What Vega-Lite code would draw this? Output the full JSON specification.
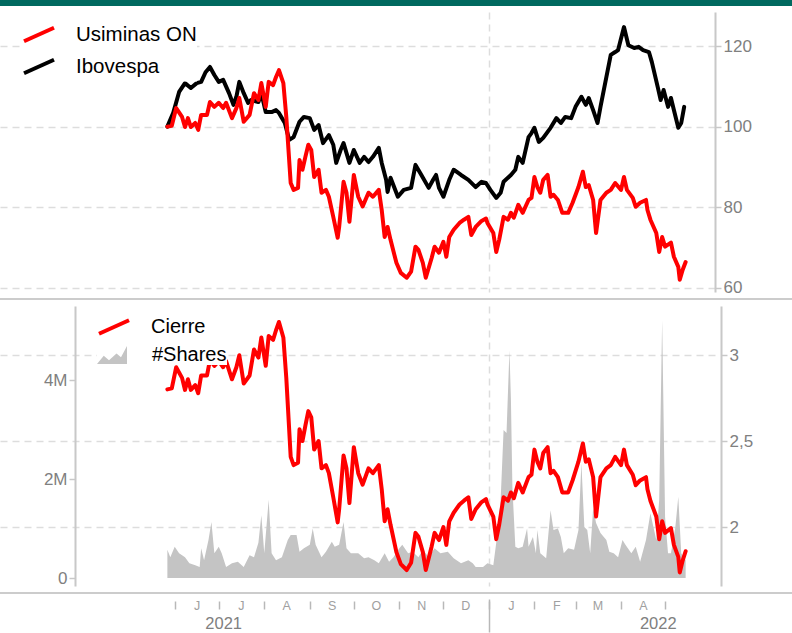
{
"$schema": "https://vega.github.io/schema/vega-lite/v6.json",
"padding": 0,
"spacing": 6,
"bounds": "flush",
"config": {"view": {"stroke": null}, "font": "Liberation Sans", "axis": {"labelFont": "Liberation Sans"}, "legend": {"labelFont": "Liberation Sans"}},
"datasets": {
"ibov": [
{"d":"2021-05-27","v":100.0},{"d":"2021-05-31","v":103.4},{"d":"2021-06-04","v":108.6},{"d":"2021-06-08","v":110.8},{"d":"2021-06-12","v":109.6},{"d":"2021-06-16","v":110.8},{"d":"2021-06-19","v":111.1},{"d":"2021-06-22","v":113.5},{"d":"2021-06-25","v":114.8},{"d":"2021-06-28","v":112.8},{"d":"2021-07-01","v":111.1},{"d":"2021-07-04","v":111.6},{"d":"2021-07-08","v":108.3},{"d":"2021-07-11","v":105.4},{"d":"2021-07-13","v":107.4},{"d":"2021-07-15","v":111.1},{"d":"2021-07-18","v":108.3},{"d":"2021-07-21","v":105.9},{"d":"2021-07-23","v":106.6},{"d":"2021-07-28","v":106.1},{"d":"2021-07-30","v":108.3},{"d":"2021-08-02","v":103.6},{"d":"2021-08-06","v":103.6},{"d":"2021-08-09","v":104.1},{"d":"2021-08-11","v":103.4},{"d":"2021-08-15","v":100.9},{"d":"2021-08-18","v":96.7},{"d":"2021-08-21","v":97.4},{"d":"2021-08-25","v":101.2},{"d":"2021-08-28","v":102.4},{"d":"2021-09-01","v":102.1},{"d":"2021-09-04","v":99.2},{"d":"2021-09-07","v":100.4},{"d":"2021-09-10","v":95.9},{"d":"2021-09-14","v":97.9},{"d":"2021-09-17","v":95.5},{"d":"2021-09-19","v":91.0},{"d":"2021-09-22","v":94.2},{"d":"2021-09-24","v":95.9},{"d":"2021-09-28","v":91.0},{"d":"2021-10-01","v":94.2},{"d":"2021-10-05","v":91.0},{"d":"2021-10-08","v":92.5},{"d":"2021-10-11","v":91.2},{"d":"2021-10-14","v":92.5},{"d":"2021-10-18","v":94.7},{"d":"2021-10-20","v":91.0},{"d":"2021-10-23","v":86.8},{"d":"2021-10-24","v":83.8},{"d":"2021-10-26","v":87.3},{"d":"2021-10-31","v":82.6},{"d":"2021-11-04","v":84.3},{"d":"2021-11-09","v":84.8},{"d":"2021-11-12","v":90.5},{"d":"2021-11-16","v":88.0},{"d":"2021-11-21","v":84.8},{"d":"2021-11-24","v":86.8},{"d":"2021-11-26","v":88.0},{"d":"2021-11-28","v":84.8},{"d":"2021-12-01","v":82.6},{"d":"2021-12-05","v":86.8},{"d":"2021-12-08","v":89.3},{"d":"2021-12-13","v":88.0},{"d":"2021-12-18","v":86.8},{"d":"2021-12-23","v":85.0},{"d":"2021-12-27","v":86.3},{"d":"2021-12-30","v":86.0},{"d":"2022-01-02","v":84.3},{"d":"2022-01-06","v":82.3},{"d":"2022-01-09","v":83.6},{"d":"2022-01-11","v":86.3},{"d":"2022-01-16","v":88.0},{"d":"2022-01-19","v":89.3},{"d":"2022-01-21","v":92.5},{"d":"2022-01-24","v":91.0},{"d":"2022-01-28","v":97.4},{"d":"2022-01-30","v":98.4},{"d":"2022-02-01","v":99.7},{"d":"2022-02-04","v":96.2},{"d":"2022-02-07","v":97.2},{"d":"2022-02-12","v":99.7},{"d":"2022-02-16","v":102.1},{"d":"2022-02-19","v":100.9},{"d":"2022-02-22","v":102.4},{"d":"2022-02-26","v":102.1},{"d":"2022-03-01","v":104.9},{"d":"2022-03-05","v":107.4},{"d":"2022-03-08","v":105.4},{"d":"2022-03-10","v":107.1},{"d":"2022-03-13","v":104.1},{"d":"2022-03-16","v":100.9},{"d":"2022-03-18","v":104.9},{"d":"2022-03-22","v":112.3},{"d":"2022-03-25","v":117.8},{"d":"2022-03-28","v":118.5},{"d":"2022-03-30","v":119.0},{"d":"2022-04-03","v":124.7},{"d":"2022-04-06","v":120.2},{"d":"2022-04-10","v":119.5},{"d":"2022-04-13","v":119.8},{"d":"2022-04-16","v":119.0},{"d":"2022-04-20","v":118.5},{"d":"2022-04-22","v":116.0},{"d":"2022-04-26","v":109.8},{"d":"2022-04-28","v":106.6},{"d":"2022-04-30","v":109.1},{"d":"2022-05-03","v":104.9},{"d":"2022-05-05","v":107.1},{"d":"2022-05-07","v":104.1},{"d":"2022-05-10","v":99.7},{"d":"2022-05-12","v":100.9},{"d":"2022-05-14","v":104.9}
],
"usim": [
{"d":"2021-05-27","v":100.0,"p":2.800},{"d":"2021-05-30","v":100.2,"p":2.806},{"d":"2021-06-02","v":104.6,"p":2.929},{"d":"2021-06-06","v":102.4,"p":2.867},{"d":"2021-06-08","v":99.9,"p":2.797},{"d":"2021-06-10","v":102.1,"p":2.859},{"d":"2021-06-12","v":99.9,"p":2.797},{"d":"2021-06-15","v":100.9,"p":2.825},{"d":"2021-06-17","v":99.2,"p":2.778},{"d":"2021-06-19","v":102.9,"p":2.881},{"d":"2021-06-23","v":102.9,"p":2.881},{"d":"2021-06-25","v":106.1,"p":2.971},{"d":"2021-06-28","v":104.9,"p":2.937},{"d":"2021-07-01","v":105.9,"p":2.965},{"d":"2021-07-04","v":104.6,"p":2.929},{"d":"2021-07-06","v":105.9,"p":2.965},{"d":"2021-07-10","v":102.1,"p":2.859},{"d":"2021-07-13","v":104.6,"p":2.929},{"d":"2021-07-15","v":107.1,"p":2.999},{"d":"2021-07-18","v":101.2,"p":2.834},{"d":"2021-07-22","v":102.9,"p":2.881},{"d":"2021-07-25","v":108.3,"p":3.032},{"d":"2021-07-28","v":106.6,"p":2.985},{"d":"2021-07-30","v":110.8,"p":3.102},{"d":"2021-08-02","v":104.9,"p":2.937},{"d":"2021-08-04","v":111.1,"p":3.111},{"d":"2021-08-07","v":110.3,"p":3.088},{"d":"2021-08-09","v":112.3,"p":3.144},{"d":"2021-08-11","v":114.0,"p":3.192},{"d":"2021-08-14","v":110.8,"p":3.102},{"d":"2021-08-16","v":102.4,"p":2.867},{"d":"2021-08-19","v":86.0,"p":2.408},{"d":"2021-08-21","v":84.3,"p":2.360},{"d":"2021-08-24","v":84.8,"p":2.374},{"d":"2021-08-25","v":91.7,"p":2.568},{"d":"2021-08-27","v":89.3,"p":2.500},{"d":"2021-08-29","v":92.5,"p":2.590},{"d":"2021-08-31","v":95.5,"p":2.674},{"d":"2021-09-02","v":94.2,"p":2.638},{"d":"2021-09-04","v":87.5,"p":2.450},{"d":"2021-09-07","v":89.3,"p":2.500},{"d":"2021-09-09","v":83.6,"p":2.341},{"d":"2021-09-12","v":84.3,"p":2.360},{"d":"2021-09-14","v":82.6,"p":2.313},{"d":"2021-09-17","v":77.6,"p":2.173},{"d":"2021-09-20","v":72.4,"p":2.027},{"d":"2021-09-21","v":75.1,"p":2.103},{"d":"2021-09-24","v":86.3,"p":2.416},{"d":"2021-09-26","v":83.6,"p":2.341},{"d":"2021-09-28","v":76.4,"p":2.139},{"d":"2021-10-01","v":88.0,"p":2.464},{"d":"2021-10-04","v":82.6,"p":2.313},{"d":"2021-10-07","v":80.2,"p":2.246},{"d":"2021-10-11","v":83.6,"p":2.341},{"d":"2021-10-14","v":82.6,"p":2.313},{"d":"2021-10-18","v":84.3,"p":2.360},{"d":"2021-10-20","v":79.3,"p":2.220},{"d":"2021-10-22","v":72.6,"p":2.033},{"d":"2021-10-24","v":75.1,"p":2.103},{"d":"2021-10-26","v":71.9,"p":2.013},{"d":"2021-10-30","v":66.2,"p":1.854},{"d":"2021-11-02","v":63.7,"p":1.784},{"d":"2021-11-06","v":62.5,"p":1.750},{"d":"2021-11-09","v":64.0,"p":1.792},{"d":"2021-11-12","v":70.2,"p":1.966},{"d":"2021-11-14","v":69.4,"p":1.943},{"d":"2021-11-17","v":66.2,"p":1.854},{"d":"2021-11-19","v":62.5,"p":1.750},{"d":"2021-11-23","v":67.4,"p":1.887},{"d":"2021-11-25","v":70.2,"p":1.966},{"d":"2021-11-28","v":68.7,"p":1.924},{"d":"2021-12-01","v":71.4,"p":1.999},{"d":"2021-12-03","v":67.7,"p":1.896},{"d":"2021-12-05","v":72.6,"p":2.033},{"d":"2021-12-08","v":74.4,"p":2.083},{"d":"2021-12-12","v":76.1,"p":2.131},{"d":"2021-12-15","v":76.9,"p":2.153},{"d":"2021-12-18","v":77.6,"p":2.173},{"d":"2021-12-20","v":73.1,"p":2.047},{"d":"2021-12-23","v":75.1,"p":2.103},{"d":"2021-12-27","v":76.6,"p":2.145},{"d":"2021-12-30","v":77.2,"p":2.162},{"d":"2021-12-31","v":76.1,"p":2.131},{"d":"2022-01-04","v":73.6,"p":2.061},{"d":"2022-01-06","v":68.9,"p":1.929},{"d":"2022-01-08","v":71.9,"p":2.013},{"d":"2022-01-11","v":77.6,"p":2.173},{"d":"2022-01-14","v":76.9,"p":2.153},{"d":"2022-01-16","v":78.6,"p":2.201},{"d":"2022-01-18","v":77.4,"p":2.167},{"d":"2022-01-21","v":80.6,"p":2.257},{"d":"2022-01-24","v":78.6,"p":2.201},{"d":"2022-01-28","v":81.8,"p":2.290},{"d":"2022-01-30","v":82.3,"p":2.304},{"d":"2022-02-01","v":87.5,"p":2.450},{"d":"2022-02-03","v":85.0,"p":2.380},{"d":"2022-02-05","v":83.6,"p":2.341},{"d":"2022-02-07","v":86.8,"p":2.430},{"d":"2022-02-10","v":88.0,"p":2.464},{"d":"2022-02-12","v":82.6,"p":2.313},{"d":"2022-02-14","v":83.1,"p":2.327},{"d":"2022-02-17","v":81.8,"p":2.290},{"d":"2022-02-20","v":78.6,"p":2.201},{"d":"2022-02-24","v":78.6,"p":2.201},{"d":"2022-02-27","v":81.1,"p":2.271},{"d":"2022-03-03","v":85.0,"p":2.380},{"d":"2022-03-06","v":88.8,"p":2.486},{"d":"2022-03-08","v":85.0,"p":2.380},{"d":"2022-03-10","v":85.5,"p":2.394},{"d":"2022-03-13","v":81.8,"p":2.290},{"d":"2022-03-15","v":73.6,"p":2.061},{"d":"2022-03-18","v":81.8,"p":2.290},{"d":"2022-03-22","v":83.6,"p":2.341},{"d":"2022-03-25","v":84.3,"p":2.360},{"d":"2022-03-28","v":86.0,"p":2.408},{"d":"2022-04-01","v":84.3,"p":2.360},{"d":"2022-04-03","v":87.5,"p":2.450},{"d":"2022-04-05","v":84.3,"p":2.360},{"d":"2022-04-09","v":82.3,"p":2.304},{"d":"2022-04-11","v":80.1,"p":2.243},{"d":"2022-04-14","v":81.1,"p":2.271},{"d":"2022-04-18","v":81.8,"p":2.290},{"d":"2022-04-19","v":79.3,"p":2.220},{"d":"2022-04-21","v":76.9,"p":2.153},{"d":"2022-04-25","v":73.6,"p":2.061},{"d":"2022-04-27","v":68.9,"p":1.929},{"d":"2022-04-29","v":72.6,"p":2.033},{"d":"2022-05-01","v":70.2,"p":1.966},{"d":"2022-05-05","v":71.2,"p":1.994},{"d":"2022-05-07","v":67.7,"p":1.896},{"d":"2022-05-10","v":65.2,"p":1.826},{"d":"2022-05-11","v":62.0,"p":1.736},{"d":"2022-05-13","v":64.5,"p":1.806},{"d":"2022-05-15","v":66.4,"p":1.859}
],
"shares": [
{"d":"2021-05-27","s":570000},{"d":"2021-05-29","s":420000},{"d":"2021-06-01","s":630000},{"d":"2021-06-04","s":500000},{"d":"2021-06-08","s":420000},{"d":"2021-06-11","s":300000},{"d":"2021-06-15","s":260000},{"d":"2021-06-18","s":220000},{"d":"2021-06-19","s":600000},{"d":"2021-06-21","s":360000},{"d":"2021-06-24","s":770000},{"d":"2021-06-26","s":1130000},{"d":"2021-06-28","s":500000},{"d":"2021-07-01","s":630000},{"d":"2021-07-03","s":500000},{"d":"2021-07-06","s":220000},{"d":"2021-07-10","s":300000},{"d":"2021-07-14","s":330000},{"d":"2021-07-18","s":220000},{"d":"2021-07-22","s":460000},{"d":"2021-07-25","s":420000},{"d":"2021-07-28","s":710000},{"d":"2021-07-30","s":1270000},{"d":"2021-08-01","s":500000},{"d":"2021-08-04","s":1580000},{"d":"2021-08-06","s":500000},{"d":"2021-08-09","s":360000},{"d":"2021-08-13","s":420000},{"d":"2021-08-17","s":770000},{"d":"2021-08-19","s":870000},{"d":"2021-08-23","s":870000},{"d":"2021-08-25","s":530000},{"d":"2021-08-28","s":600000},{"d":"2021-09-01","s":670000},{"d":"2021-09-03","s":1000000},{"d":"2021-09-05","s":670000},{"d":"2021-09-09","s":420000},{"d":"2021-09-12","s":530000},{"d":"2021-09-16","s":730000},{"d":"2021-09-18","s":630000},{"d":"2021-09-21","s":670000},{"d":"2021-09-24","s":1130000},{"d":"2021-09-26","s":600000},{"d":"2021-09-29","s":500000},{"d":"2021-10-04","s":500000},{"d":"2021-10-08","s":400000},{"d":"2021-10-11","s":420000},{"d":"2021-10-15","s":360000},{"d":"2021-10-18","s":300000},{"d":"2021-10-22","s":500000},{"d":"2021-10-25","s":330000},{"d":"2021-10-28","s":420000},{"d":"2021-11-01","s":600000},{"d":"2021-11-03","s":670000},{"d":"2021-11-07","s":500000},{"d":"2021-11-10","s":530000},{"d":"2021-11-14","s":420000},{"d":"2021-11-17","s":570000},{"d":"2021-11-21","s":420000},{"d":"2021-11-25","s":600000},{"d":"2021-11-29","s":500000},{"d":"2021-12-04","s":530000},{"d":"2021-12-08","s":400000},{"d":"2021-12-13","s":300000},{"d":"2021-12-18","s":360000},{"d":"2021-12-21","s":300000},{"d":"2021-12-23","s":220000},{"d":"2021-12-28","s":220000},{"d":"2021-12-31","s":300000},{"d":"2022-01-04","s":260000},{"d":"2022-01-06","s":710000},{"d":"2022-01-09","s":1580000},{"d":"2022-01-11","s":2990000},{"d":"2022-01-13","s":2930000},{"d":"2022-01-15","s":4600000},{"d":"2022-01-16","s":3600000},{"d":"2022-01-17","s":1840000},{"d":"2022-01-19","s":630000},{"d":"2022-01-21","s":600000},{"d":"2022-01-24","s":630000},{"d":"2022-01-27","s":1000000},{"d":"2022-01-28","s":630000},{"d":"2022-01-31","s":830000},{"d":"2022-02-02","s":500000},{"d":"2022-02-03","s":970000},{"d":"2022-02-05","s":500000},{"d":"2022-02-09","s":400000},{"d":"2022-02-12","s":1370000},{"d":"2022-02-14","s":970000},{"d":"2022-02-17","s":1000000},{"d":"2022-02-19","s":830000},{"d":"2022-02-21","s":500000},{"d":"2022-02-24","s":600000},{"d":"2022-02-28","s":570000},{"d":"2022-03-03","s":970000},{"d":"2022-03-05","s":2320000},{"d":"2022-03-07","s":1030000},{"d":"2022-03-09","s":970000},{"d":"2022-03-11","s":500000},{"d":"2022-03-13","s":1410000},{"d":"2022-03-15","s":1110000},{"d":"2022-03-18","s":910000},{"d":"2022-03-22","s":770000},{"d":"2022-03-24","s":530000},{"d":"2022-03-27","s":500000},{"d":"2022-03-30","s":420000},{"d":"2022-04-02","s":770000},{"d":"2022-04-04","s":670000},{"d":"2022-04-08","s":500000},{"d":"2022-04-11","s":630000},{"d":"2022-04-14","s":330000},{"d":"2022-04-18","s":770000},{"d":"2022-04-21","s":1310000},{"d":"2022-04-25","s":770000},{"d":"2022-04-27","s":1580000},{"d":"2022-04-29","s":5210000},{"d":"2022-05-01","s":1230000},{"d":"2022-05-03","s":500000},{"d":"2022-05-05","s":500000},{"d":"2022-05-08","s":1030000},{"d":"2022-05-10","s":1640000},{"d":"2022-05-12","s":500000},{"d":"2022-05-15","s":360000}
]
},
"vconcat": [
{"width": 792, "height": 6, "data": {"values": []}, "mark": "rule", "encoding": {}, "view": {"fill": "#00695f", "stroke": null}},
{
 "width": 715, "height": 280,
 "layer": [
  {"data": {"name": "ibov"}, "mark": {"type": "line", "strokeWidth": 4, "strokeJoin": "round", "strokeCap": "round"},
   "encoding": {
    "x": {"field": "d", "type": "temporal", "scale": {"domain": [{"year": 2021, "month": 2, "date": 2}, {"year": 2022, "month": 6, "date": 4}]},
          "axis": {"values": [{"year": 2022, "month": 1, "date": 1}], "grid": true, "gridDash": [7, 5], "gridColor": "#dddddd", "gridWidth": 1.5, "labels": false, "ticks": false, "domain": false, "title": null}},
    "y": {"field": "v", "type": "quantitative", "scale": {"domain": [58.96, 128.44], "nice": false, "zero": false},
          "axis": {"orient": "right", "values": [60, 80, 100, 120], "grid": true, "gridDash": [7, 5], "gridColor": "#dddddd", "gridWidth": 1.5, "domainColor": "#c8c8c8", "domainWidth": 2, "tickColor": "#c8c8c8", "tickWidth": 1.5, "tickSize": 6, "labelColor": "#808080", "labelFontSize": 17, "labelPadding": 2, "title": null}},
    "color": {"datum": "Ibovespa", "type": "nominal", "scale": {"domain": ["Usiminas ON", "Ibovespa"], "range": ["#ff0000", "#000000"]},
              "legend": {"orient": "none", "legendX": 22, "legendY": 17.5, "title": null, "symbolType": "M-1,0.45L1,-0.45", "symbolSize": 900, "symbolStrokeWidth": 4, "labelFontSize": 20.5, "labelColor": "#000000", "labelOffset": 20, "rowPadding": 0, "padding": 0, "fillColor": "white"}}
   }},
  {"data": {"name": "usim"}, "mark": {"type": "line", "strokeWidth": 4, "strokeJoin": "round", "strokeCap": "round"},
   "encoding": {
    "x": {"field": "d", "type": "temporal", "scale": {"domain": [{"year": 2021, "month": 2, "date": 2}, {"year": 2022, "month": 6, "date": 4}]}},
    "y": {"field": "v", "type": "quantitative", "scale": {"domain": [58.96, 128.44], "nice": false, "zero": false}},
    "color": {"datum": "Usiminas ON", "type": "nominal"}
   }}
 ]
},
{"width": 792, "height": 2, "data": {"values": []}, "mark": "rule", "encoding": {}, "view": {"fill": "#cccccc", "stroke": null}},
{
 "width": 715, "height": 280,
 "resolve": {"scale": {"y": "independent"}, "axis": {"x": "independent"}},
 "layer": [
  {"data": {"name": "shares"}, "mark": {"type": "area", "opacity": 1},
   "encoding": {
    "x": {"field": "d", "type": "temporal", "scale": {"domain": [{"year": 2021, "month": 2, "date": 2}, {"year": 2022, "month": 6, "date": 4}]},
          "axis": {"orient": "bottom", "values": [{"year": 2022, "month": 1, "date": 1}], "grid": true, "gridDash": [7, 5], "gridColor": "#dddddd", "gridWidth": 1.5, "ticks": true, "tickSize": 33, "tickColor": "#b8b8b8", "tickWidth": 1.5, "offset": 13, "domain": false, "labels": false, "title": null}},
    "y": {"field": "s", "type": "quantitative", "scale": {"domain": [-161600, 5495000], "nice": false, "zero": false},
          "axis": {"orient": "left", "offset": -75, "values": [0, 2000000, 4000000], "labelExpr": "datum.value == 0 ? '0' : (datum.value / 1000000) + 'M'", "grid": false, "domainColor": "#c8c8c8", "domainWidth": 2, "tickColor": "#c8c8c8", "tickWidth": 1.5, "tickSize": 6, "labelColor": "#808080", "labelFontSize": 17, "labelPadding": 2, "title": null}},
    "y2": {"datum": 0},
    "fill": {"datum": "#Shares", "type": "nominal", "scale": {"range": ["#c4c4c4"]},
             "legend": {"orient": "none", "legendX": 97, "legendY": 340, "title": null, "symbolType": "M-1,0.6L-0.55,0.05L-0.2,0.35L0.3,-0.1L0.6,0.15L1,-0.6L1,0.6Z", "symbolSize": 900, "symbolStrokeWidth": 0, "labelFontSize": 20, "labelColor": "#000000", "labelOffset": 25, "rowPadding": 0, "padding": 0, "fillColor": "white"}}
   }},
  {"data": {"name": "usim"}, "mark": {"type": "line", "strokeWidth": 4, "strokeJoin": "round", "strokeCap": "round"},
   "encoding": {
    "x": {"field": "d", "type": "temporal", "scale": {"domain": [{"year": 2021, "month": 2, "date": 2}, {"year": 2022, "month": 6, "date": 4}]},
          "axis": {"orient": "bottom", "values": [{"year": 2021, "month": 6, "date": 1}, {"year": 2021, "month": 7, "date": 1}, {"year": 2021, "month": 8, "date": 1}, {"year": 2021, "month": 9, "date": 1}, {"year": 2021, "month": 10, "date": 1}, {"year": 2021, "month": 11, "date": 1}, {"year": 2021, "month": 12, "date": 1}, {"year": 2022, "month": 1, "date": 1}, {"year": 2022, "month": 2, "date": 1}, {"year": 2022, "month": 3, "date": 1}, {"year": 2022, "month": 4, "date": 1}, {"year": 2022, "month": 5, "date": 1}],
                   "labelExpr": "(timeFormat(datum.value, '%Y') == '2022' && timeFormat(datum.value, '%m') == '05') ? '' : substring(timeFormat(datum.value, '%b'), 0, 1)",
                   "grid": false, "ticks": true, "tickSize": 8, "tickColor": "#b8b8b8", "tickWidth": 1.5, "offset": 15, "domain": false, "labelOffset": 22, "labelPadding": -4, "labelBaseline": "middle", "labelFontSize": 12.5, "labelColor": "#a0a0a0", "labelOverlap": false, "labelFlush": false, "title": null}},
    "y": {"field": "p", "type": "quantitative", "scale": {"domain": [1.657, 3.285], "nice": false, "zero": false},
          "axis": {"orient": "right", "offset": 6, "values": [2, 2.5, 3], "labelExpr": "replace(format(datum.value, '~g'), '.', ',')", "grid": true, "gridDash": [7, 5], "gridColor": "#dddddd", "gridWidth": 1.5, "domainColor": "#c8c8c8", "domainWidth": 2, "tickColor": "#c8c8c8", "tickWidth": 1.5, "tickSize": 6, "labelColor": "#808080", "labelFontSize": 17, "labelPadding": 2, "title": null}},
    "stroke": {"datum": "Cierre", "type": "nominal", "scale": {"range": ["#ff0000"]},
               "legend": {"orient": "none", "legendX": 97, "legendY": 310, "title": null, "symbolType": "M-1,0.45L1,-0.45", "symbolSize": 900, "symbolStrokeWidth": 4, "labelFontSize": 20, "labelColor": "#000000", "labelOffset": 20, "rowPadding": 0, "padding": 0, "fillColor": "white"}}
   }},
  {"data": {"name": "usim"}, "mark": {"type": "point", "opacity": 0},
   "encoding": {
    "x": {"field": "d", "type": "temporal", "scale": {"domain": [{"year": 2021, "month": 2, "date": 2}, {"year": 2022, "month": 6, "date": 4}]},
          "axis": {"orient": "bottom", "values": [{"year": 2021, "month": 7, "date": 4}, {"year": 2022, "month": 4, "date": 26}], "labelExpr": "timeFormat(datum.value, '%Y')", "grid": false, "ticks": false, "domain": false, "offset": 13, "labelPadding": 24, "labelBaseline": "middle", "labelFontSize": 16.5, "labelColor": "#808080", "labelOverlap": false, "labelFlush": false, "title": null}},
    "y": {"field": "p", "type": "quantitative", "axis": null}
   }}
 ]
},
{"width": 792, "height": 2, "data": {"values": []}, "mark": "rule", "encoding": {}, "view": {"fill": "#cccccc", "stroke": null}}
]
}
